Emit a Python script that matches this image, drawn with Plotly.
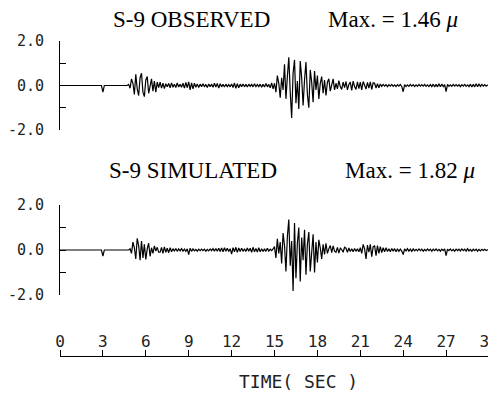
import numpy as np
import plotly.graph_objects as go

# ---------------- data ----------------
dt_sec = 0.1

observed = (
    [0.0] * 30 + [-0.30] + [0.0] * 17 +
    [0.05, -0.12, 0.30, 0.10, -0.40, 0.50, -0.15, -0.45, 0.35, 0.55, -0.30,
     -0.50, 0.25, 0.40, -0.35, 0.05, 0.30, -0.25, 0.20, -0.30, 0.15, -0.10] +
    [0.15, -0.12, 0.10, -0.14, 0.08, -0.06, 0.09, -0.10, 0.12, -0.08,
     0.06, -0.09, 0.11, -0.07, 0.05, -0.08, 0.10, -0.12, 0.14, -0.10,
     0.16, -0.20, 0.12, -0.15, 0.10, -0.08, 0.07, -0.09, 0.06, -0.05] +
    [0.08, -0.06, 0.05, -0.09, 0.07, -0.05, 0.06, -0.08, 0.10, -0.07,
     0.09, -0.12, 0.08, -0.06, 0.05, -0.07, 0.06, -0.05, 0.04, -0.06,
     0.07, -0.09, 0.11, -0.13, 0.08, -0.10, 0.06, -0.05, 0.07, -0.06,
     0.05, -0.07, 0.06, -0.04, 0.05, -0.06, 0.08, -0.05, 0.04, -0.05,
     0.06, -0.08, 0.05, -0.07, 0.09, -0.06, 0.05, -0.10, 0.12, -0.15] +
    [0.10, -0.30, 0.45, 0.10, -0.55, 0.35, -0.20, 0.95, -0.60, 0.40,
     1.27, -0.30, -1.46, 0.55, 1.15, -0.80, 0.20, -1.05, 1.10, 0.35,
     -0.90, 0.25, 1.05, -0.40, -1.00, 0.70, 0.15, -0.75, 0.65, -0.20,
     0.45, -0.60, 0.10, 0.40, -0.35, 0.25, -0.45, 0.15, 0.30, -0.25,
     0.05, 0.30, -0.20, 0.10, -0.15, 0.22, -0.05, -0.18, 0.15, -0.10] +
    [0.18, -0.20, 0.05, 0.15, -0.22, 0.20, -0.05, -0.18, 0.16, -0.14,
     0.15, -0.20, 0.18, 0.02, -0.16, 0.14, -0.12, 0.16, -0.18, 0.12,
     0.10, -0.12, 0.08, -0.10, 0.07] +
    [-0.04, 0.05, -0.03, 0.04, -0.05,
     0.04, -0.03, 0.05, -0.04, 0.03, -0.05, 0.04, -0.03, 0.05, -0.04,
     -0.28, 0.04, -0.05, 0.03, -0.04, 0.05, -0.03, 0.04, -0.05, 0.03,
     -0.04, 0.05, -0.03, 0.04, -0.03, 0.05, -0.04, 0.03, -0.05, 0.04,
     -0.05, 0.06, -0.07, 0.05, -0.06, 0.08, -0.06, 0.07, -0.05, 0.04,
     -0.28, 0.05, -0.04, 0.03, -0.04, 0.05, -0.03, 0.04, -0.03, 0.04,
     -0.05, 0.04, -0.03, 0.05, -0.04, 0.03, -0.05, 0.06, -0.07, 0.05,
     -0.06, 0.08, -0.05, 0.06, -0.04, 0.05, -0.03, 0.04, -0.03, 0.02,
     0.0]
)

simulated = (
    [0.0] * 30 + [-0.27] + [0.0] * 18 +
    [0.05, -0.15, 0.35, 0.10, -0.40, 0.52, 0.20, -0.45, 0.40, -0.35, 0.25,
     -0.42, 0.05, 0.30, -0.28, 0.10, -0.15, 0.18, -0.05, 0.12, -0.10] +
    [-0.10, 0.12, -0.15, 0.14, -0.10, 0.08, -0.12, 0.10, -0.08, 0.06,
     -0.05, 0.07, -0.06, 0.05, -0.04, 0.06, -0.05, 0.04, -0.06, 0.05,
     -0.20, 0.08, -0.06, 0.05, -0.04, 0.03, -0.05, 0.04, -0.03, 0.04] +
    [-0.03, 0.04, -0.05, 0.03, -0.04, 0.05, -0.03, 0.06, -0.05, 0.07,
     -0.06, 0.08, -0.07, 0.09, -0.08, 0.10, -0.06, 0.08, -0.07, 0.06,
     -0.18, 0.10, -0.08, 0.12, -0.10, 0.09, -0.07, 0.08, -0.06, 0.05,
     -0.07, 0.09, -0.06, 0.08, -0.10, 0.12, -0.08, 0.07, -0.09, 0.10,
     -0.08, 0.06, -0.07, 0.05, -0.06, 0.08, -0.05, 0.04, -0.03, 0.05] +
    [0.15, -0.35, 0.50, -0.15, 0.35, -0.60, 0.75, 0.20, -0.95, 0.60,
     1.35, -0.70, 0.40, -1.82, 1.20, -1.25, 0.30, 1.00, -1.40, 0.55,
     -0.45, 0.90, -1.10, 0.25, 0.80, -0.95, 0.10, 0.70, -1.00, 0.35,
     -0.55, 0.45, 0.10, -0.40, 0.25, -0.20, 0.30, -0.15, 0.05, 0.20,
     -0.12, 0.18, -0.05, -0.10, 0.12, -0.14, 0.08, 0.02, -0.10, 0.12] +
    [0.08, -0.10, 0.09, -0.07, 0.06, -0.08, 0.07, -0.06, 0.05, -0.08,
     0.10, -0.15, 0.25, 0.05, -0.40, 0.22, -0.10, 0.25, -0.30, 0.15,
     0.18, -0.25, 0.20, -0.15, 0.15, -0.12, 0.10, -0.08, 0.10, -0.07] +
    [0.06, -0.08, 0.07, -0.05, 0.06, -0.08, 0.05, -0.06, 0.04, -0.05,
     -0.20, 0.05, -0.04, 0.06, -0.05, 0.04, -0.06, 0.05, -0.04, 0.03,
     -0.04, 0.05, -0.03, 0.04, -0.05, 0.03, -0.04, 0.05, -0.03, 0.04,
     -0.05, 0.04, -0.03, 0.05, -0.04, 0.03, -0.05, 0.04, -0.03, 0.05,
     -0.25, 0.04, -0.03, 0.05, -0.04, 0.03, -0.05, 0.04, -0.03, 0.04,
     -0.04, 0.05, -0.03, 0.04, -0.05, 0.06, -0.04, 0.03, -0.05, 0.04,
     -0.03, 0.04, -0.05, 0.03, -0.04, 0.03, -0.02, 0.03, -0.02, 0.01,
     0.0]
)

time_obs = [round(i * dt_sec, 2) for i in range(len(observed))]
time_sim = [round(i * dt_sec, 2) for i in range(len(simulated))]

y_tickvals = [-2, -1, 0, 1, 2]
y_ticktext = ["-2.0", "", "0.0", "", "2.0"]
x_tickvals = list(range(0, 31, 3))
x_ticktext = [str(v) for v in x_tickvals]

titles_top = ["S-9 OBSERVED", "Max. = 1.46 <i>μ</i>"]
titles_bot = ["S-9 SIMULATED", "Max. = 1.82 <i>μ</i>"]
x_title = "TIME( SEC )"

# ---------------- figure ----------------
W, H = 496, 394
OFF = 8  # the page body adds an 8 px margin; positions below are page pixels
def px(x):
    return (x - OFF) / W
def py(y):
    return 1 - (y - OFF) / H

fig = go.Figure()
fig.add_trace(go.Scatter(x=time_obs, y=observed, mode="lines",
                         line=dict(color="black", width=1.2),
                         xaxis="x", yaxis="y", showlegend=False, hoverinfo="skip"))
fig.add_trace(go.Scatter(x=time_sim, y=simulated, mode="lines",
                         line=dict(color="black", width=1.2),
                         xaxis="x2", yaxis="y2", showlegend=False, hoverinfo="skip"))
# carrier for the stand-alone time axis
fig.add_trace(go.Scatter(x=time_sim, y=simulated, mode="lines", opacity=0,
                         xaxis="x3", yaxis="y3", showlegend=False, hoverinfo="skip"))

xdom = [px(60), px(489)]
tick_font = dict(family="DejaVu Sans Mono", size=15, color="#222")

yax = dict(range=[-2, 2], tickvals=y_tickvals, ticktext=y_ticktext,
           ticks="inside", ticklen=6, tickwidth=1, tickcolor="black",
           showline=True, linecolor="black", linewidth=1,
           showgrid=False, zeroline=False, tickfont=tick_font,
           ticklabelstandoff=12, ticklabeloverflow="allow",
           fixedrange=True, automargin=False)

fig.update_layout(
    width=W, height=H,
    margin=dict(l=0, r=0, t=0, b=0, pad=0, autoexpand=False),
    paper_bgcolor="white", plot_bgcolor="white",
    xaxis=dict(domain=xdom, range=[0, 30], visible=False, anchor="y", automargin=False),
    yaxis=dict(domain=[py(130), py(41)], anchor="x", **yax),
    xaxis2=dict(domain=xdom, range=[0, 30], visible=False, anchor="y2", automargin=False),
    yaxis2=dict(domain=[py(295), py(205)], anchor="x2", **yax),
    xaxis3=dict(domain=xdom, range=[0, 30], anchor="y3", side="top",
                tickvals=x_tickvals, ticktext=x_ticktext,
                ticks="outside", ticklen=6, tickwidth=1, tickcolor="black",
                showline=True, linecolor="black", linewidth=1,
                showgrid=False, zeroline=False,
                tickfont=dict(family="DejaVu Sans Mono", size=16, color="#222"),
                ticklabelstandoff=-3, ticklabeloverflow="allow", automargin=False),
    yaxis3=dict(domain=[0, py(357)], range=[-2, 2], visible=False, anchor="x3",
                automargin=False),
)

serif = dict(family="Liberation Serif", size=23, color="black")
ann = [
    (titles_top[0], 191, 20), (titles_top[1], 393, 20),
    (titles_bot[0], 193, 170), (titles_bot[1], 410, 170),
]
for text, x, y in ann:
    fig.add_annotation(text=text, x=px(x), y=py(y), xref="paper", yref="paper",
                       xanchor="center", yanchor="middle", showarrow=False, font=serif)
fig.add_annotation(text=x_title, x=px(298), y=py(381), xref="paper", yref="paper",
                   xanchor="center", yanchor="middle", showarrow=False,
                   font=dict(family="DejaVu Sans Mono", size=18, color="#222"))

fig.write_html("out.html")
